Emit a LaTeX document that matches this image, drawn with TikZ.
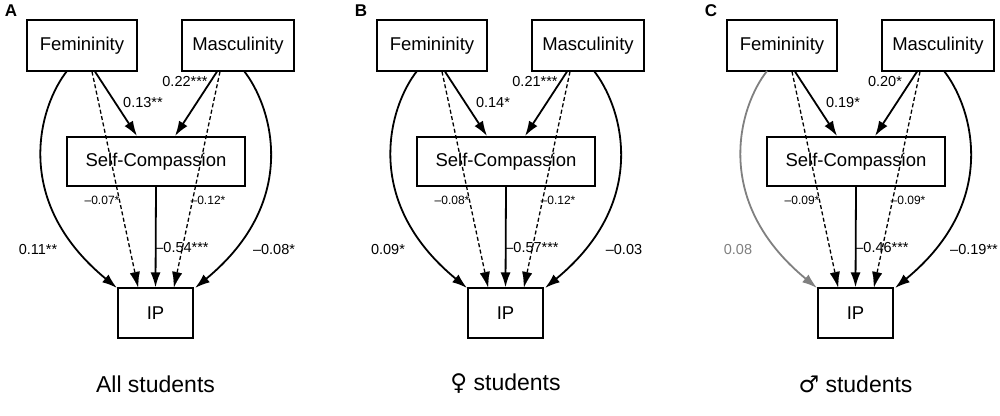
\documentclass[tikz,border=0pt]{standalone}
\usepackage{fontspec}
\setmainfont{Liberation Sans}
\newfontfamily\symf{DejaVu Sans}
\usetikzlibrary{arrows.meta}
\tikzset{
 box/.style={draw,line width=1.2pt,inner sep=0pt,font=\fontsize{18.5}{21}\selectfont},
 arr/.style={line width=1.8pt,-{Latex[length=15pt,width=10pt]}},
 darr/.style={line width=1.3pt,dashed,dash pattern=on 4pt off 2.5pt,-{Latex[length=15pt,width=10pt,line width=0.1pt]}},
 lab/.style={font=\fontsize{14.5}{16}\selectfont,inner sep=1pt},
 slab/.style={font=\fontsize{12}{14}\selectfont,inner sep=1pt},
}
\newcommand\mypanel[9]{%
\begin{scope}[xshift=#1]
 \node[font=\bfseries\fontsize{17}{19}\selectfont] (L#2) at (11,11) {#2};
 \node[box,minimum width=110pt,minimum height=51pt] (F#2) at (82,45.5) {Femininity};
 \node[box,minimum width=112pt,minimum height=51pt] (M#2) at (238,45.5) {Masculinity};
 \node[box,minimum width=178pt,minimum height=49pt] (S#2) at (156,161.5) {Self-Compassion};
 \node[box,minimum width=75pt,minimum height=50pt] (I#2) at (155.5,313) {IP};
 \draw[arr] (F#2.south)++(13,0) -- (137,136);
 \draw[arr] (M#2.south)++(-21,0) -- (175,136);
 \draw[darr] (F#2.south)++(10,0) -- (138,287);
 \draw[darr] (M#2.south)++(-18,0) -- (174,287);
 \draw[arr] (S#2.south) -- (I#2.north);
 \draw[arr,draw=\fcol] (67,71) .. controls (40,105) and (10,200) .. (117,288);
 \draw[arr] (244,71) .. controls (271,105) and (302,200) .. (195,288);
 \node[lab] (l1#2) at (143,103) {#3};
 \node[lab] (l2#2) at (185,82) {#4};
 \node[slab] (l3#2) at (102,200) {#5};
 \node[slab] (l4#2) at (208,200) {#6};
 \node[lab] (l5#2) at (182,248) {#7};
 \node[lab,text=\fcol] (l6#2) at (38,250) {#8};
 \node[lab] (l7#2) at (274,250) {#9};
 \node[font=\fontsize{23}{27}\selectfont] (T#2) at (155.5,384) {\ptitle};
\end{scope}}
\begin{document}
\begin{tikzpicture}[x=1pt,y=-1pt]
\useasboundingbox (0,0) rectangle (1000,415);
\def\fcol{black}\def\ptitle{All students}
\mypanel{0pt}{A}{0.13**}{0.22***}{--0.07*}{--0.12*}{--0.54***}{0.11**}{--0.08*}
\def\ptitle{{\symf ♀} students}
\mypanel{350pt}{B}{0.14*}{0.21***}{--0.08*}{--0.12*}{--0.57***}{0.09*}{--0.03}
\def\fcol{gray}\def\ptitle{{\symf ♂} students}
\mypanel{700pt}{C}{0.19*}{0.20*}{--0.09*}{--0.09*}{--0.46***}{0.08}{--0.19**}
\end{tikzpicture}
\end{document}
